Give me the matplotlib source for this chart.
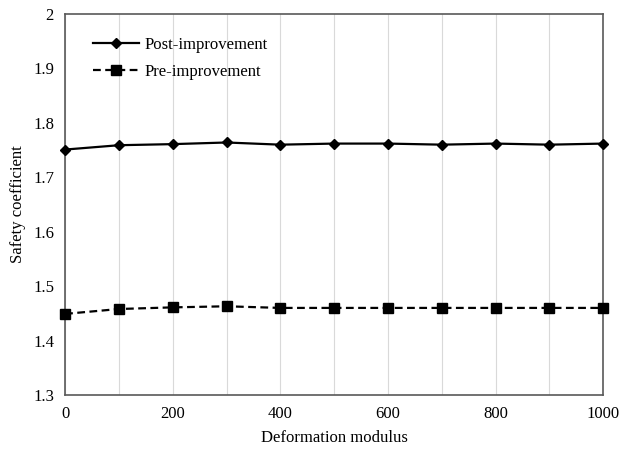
import matplotlib
matplotlib.use("Agg")
from matplotlib import pyplot as plt

plt.rcParams['font.family'] = ['Liberation Serif', 'DejaVu Serif']

modulus = [0, 100, 200, 300, 400, 500, 600, 700, 800, 900, 1000]
post_improvement = [1.751, 1.759, 1.761, 1.764, 1.760, 1.762, 1.762, 1.760, 1.762, 1.760, 1.762]
pre_improvement = [1.449, 1.458, 1.461, 1.463, 1.460, 1.460, 1.460, 1.460, 1.460, 1.460, 1.460]

fig = plt.figure(figsize=(6.2, 4.54), dpi=100)
ax = fig.add_axes([0.105, 0.13, 0.868, 0.839])

ax.plot(modulus, post_improvement, color="black", linewidth=1.6, marker="D", markersize=5,
        label="Post-improvement", clip_on=False, zorder=3)
ax.plot(modulus, pre_improvement, color="black", linewidth=1.6, linestyle=(0, (3.5, 2)),
        marker="s", markersize=7.5, label="Pre-improvement", clip_on=False, zorder=3)

ax.set_xlim(0, 1000)
ax.set_ylim(1.3, 2.0)
ax.set_xticks(range(0, 1001, 200))
ax.set_xticks(range(0, 1001, 100), minor=True)
ax.set_yticks([1.3, 1.4, 1.5, 1.6, 1.7, 1.8, 1.9, 2.0])
ax.set_yticklabels(["1.3", "1.4", "1.5", "1.6", "1.7", "1.8", "1.9", "2"])
ax.grid(axis="x", which="both", color="#d9d9d9", linewidth=0.8)
ax.set_axisbelow(True)
ax.tick_params(which="both", length=0, labelsize=12, pad=8)

for s in ax.spines.values():
    s.set_color("#595959")
    s.set_linewidth(1.2)

ax.set_xlabel("Deformation modulus", fontsize=12, labelpad=6)
ax.set_ylabel("Safety coefficient", fontsize=12, labelpad=5)

ax.legend(loc="upper left", bbox_to_anchor=(0.039, 0.958), borderaxespad=0, frameon=False,
          fontsize=12, handlelength=2.8, handletextpad=0.3, labelspacing=0.68)

fig.savefig("out.png", dpi=100)
